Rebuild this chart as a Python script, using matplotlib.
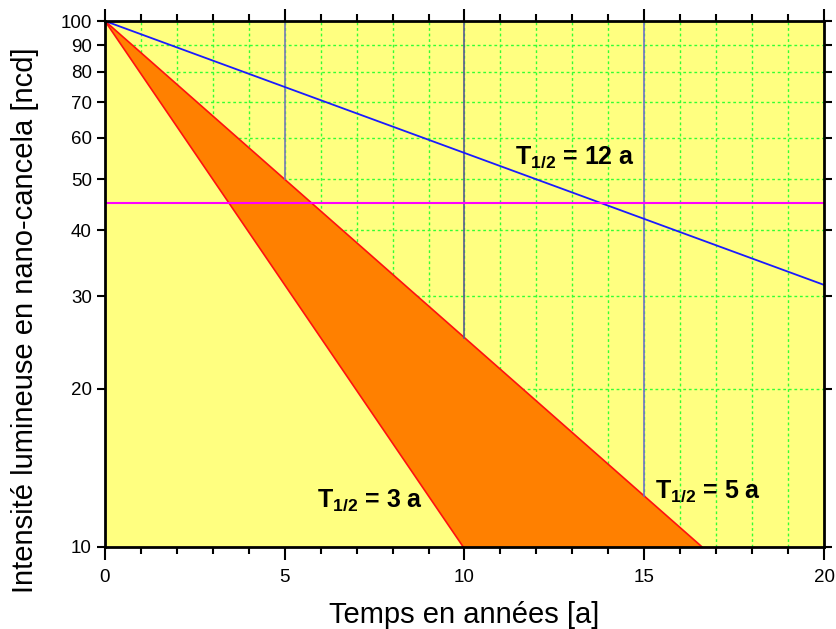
import numpy as np
import matplotlib
matplotlib.use("Agg")
import matplotlib.pyplot as plt
from matplotlib.ticker import FixedLocator, MultipleLocator, NullLocator

plt.rcParams["font.family"] = ["Liberation Sans", "DejaVu Sans"]
plt.rcParams["mathtext.fontset"] = "custom"
plt.rcParams["mathtext.rm"] = "Liberation Sans:bold"
plt.rcParams["mathtext.bf"] = "Liberation Sans:bold"
plt.rcParams["mathtext.it"] = "Liberation Sans:bold"

# half-lives (years) and initial intensity
I0 = 100
half_lives = [3, 5, 12]
threshold = 45
marks_x = [5, 10, 15]
marks_colors = ["#7878b8", "#5a5a90", "#7070c8"]
y_ticks = [10, 20, 30, 40, 50, 60, 70, 80, 90, 100]
x_ticks = [0, 5, 10, 15, 20]
labels = [(5.9, 11.9, r"T$_{\mathbf{1/2}}$ = 3 a"),
          (15.3, 12.4, r"T$_{\mathbf{1/2}}$ = 5 a"),
          (11.4, 53.5, r"T$_{\mathbf{1/2}}$ = 12 a")]

t = np.linspace(0, 20, 801)
def decay(T):
    return I0 * 0.5 ** (t / T)

fig = plt.figure(figsize=(8.37, 6.29), dpi=100)
ax = fig.add_axes([0.1254, 0.1304, 0.8591, 0.8362])
ax.set_facecolor("#ffff80")
ax.set_yscale("log")
ax.set_xlim(0, 20)
ax.set_ylim(10, 100)

# grid
for gx in range(1, 20):
    ax.axvline(gx, color="#33ff33", lw=1, ls=(0, (2, 2)), zorder=1)
for gy in y_ticks[1:-1]:
    ax.axhline(gy, color="#33ff33", lw=1, ls=(0, (2, 2)), zorder=1)

y3 = decay(half_lives[0])
y5 = decay(half_lives[1])
y12 = decay(half_lives[2])

ax.fill_between(t, 1, y5, color="#ffff80", lw=0, zorder=2)
ax.fill_between(t, y3, y5, color="#ff8000", lw=0, zorder=3)
ax.plot(t, y3, color="#ff1010", lw=1.2, zorder=4)
ax.plot(t, y5, color="#ff1010", lw=1.2, zorder=4)
ax.plot(t, y12, color="#1a1aff", lw=1.3, zorder=5)

for mx, c in zip(marks_x, marks_colors):
    ymin = I0 * 0.5 ** (mx / half_lives[1])
    ax.plot([mx, mx], [ymin, 100], color=c, lw=1.2, zorder=4)

ax.axhline(threshold, color="#ff00ff", lw=1.5, zorder=5)

for x, y, s in labels:
    ax.text(x, y, s, fontsize=18, fontweight="bold", zorder=6)

ax.yaxis.set_major_locator(FixedLocator(y_ticks))
ax.yaxis.set_minor_locator(NullLocator())
ax.set_yticklabels([str(v) for v in y_ticks])
ax.xaxis.set_major_locator(FixedLocator(x_ticks))
ax.xaxis.set_minor_locator(MultipleLocator(1))
ax.tick_params(which="both", direction="out", top=True, right=True, labelsize=13.5, width=1.5)
ax.tick_params(axis="x", which="major", length=9, pad=7)
ax.tick_params(axis="x", which="minor", length=5)
ax.tick_params(axis="y", which="major", length=6)
for sp in ax.spines.values():
    sp.set_linewidth(2)
    sp.set_zorder(10)

ax.set_xlabel("Temps en années [a]", fontsize=21, labelpad=11)
fig.text(25 / 837, 1 - 320 / 629, "Intensité lumineuse en nano-cancela [ncd]",
         fontsize=21, rotation=90, ha="center", va="center")

fig.savefig("out.png", dpi=100)
